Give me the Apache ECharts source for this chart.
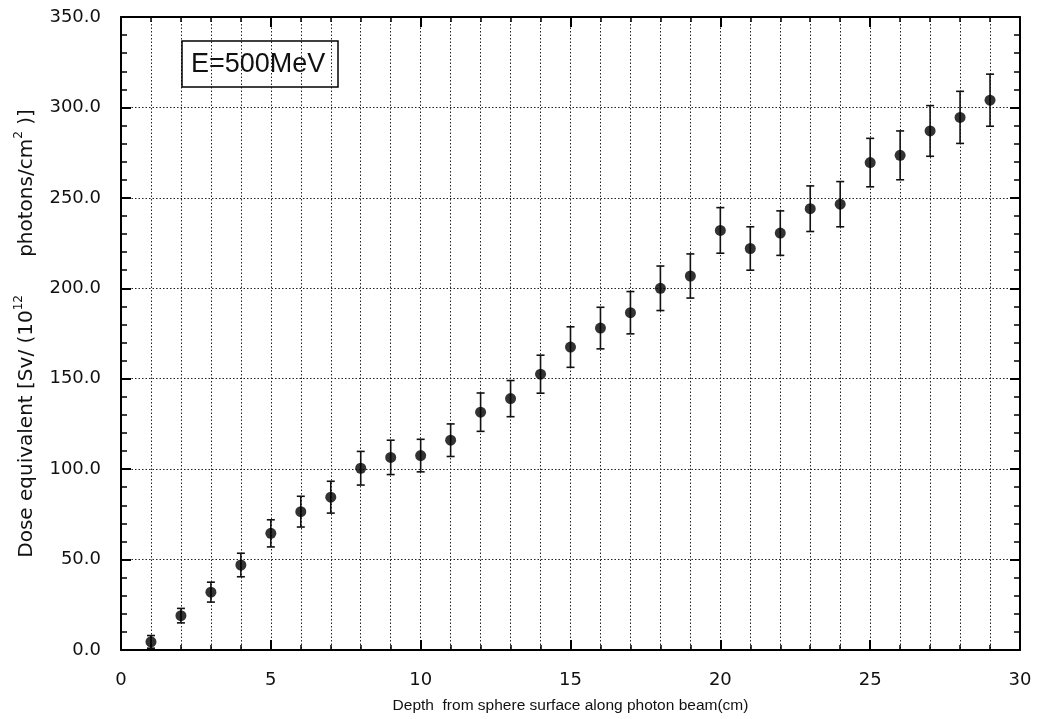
<!DOCTYPE html>
<html>
<head>
<meta charset="utf-8">
<script src="https://cdn.jsdelivr.net/npm/echarts@6/dist/echarts.min.js"></script>
<style>
html,body{margin:0;padding:0;background:#fff;}
#chart{width:1052px;height:719px;}
</style>
</head>
<body>
<div id="chart"></div>
<script>
// ---- data ----
const depth = [1,2,3,4,5,6,7,8,9,10,11,12,13,14,15,16,17,18,19,20,21,22,23,24,25,26,27,28,29];
const dose  = [4.5,19,32,47,64.5,76.5,84.5,100.5,106.5,107.5,116,131.5,139,152.5,167.5,178,186.5,200,206.8,232,222,230.5,244,246.5,269.5,273.5,287,294.5,304];
const err   = [3.5,4,5.5,6.5,7.5,8.5,8.8,9.3,9.5,9,9,10.6,10,10.5,11.2,11.5,11.7,12.3,12.2,12.6,12,12.3,12.6,12.5,13.4,13.5,14,14.4,14.4];
const xTicks = [0,5,10,15,20,25,30];
const yTicks = [0,50,100,150,200,250,300,350];
const energyLabel = 'E=500MeV';
const xTitle = 'Depth  from sphere surface along photon beam(cm)';

const pts = depth.map((d,i)=>[d, dose[i]]);
const bars = depth.map((d,i)=>[d, dose[i], err[i]]);

const FONT = 'Liberation Sans, Arial, sans-serif';
const WIDE = 'DejaVu Sans, sans-serif';
const dotted = {color:'#222', width:1, type:[1.5,2]};

function xAxisDef(pos, showLabel){
  return {
    type:'value', position:pos, min:xTicks[0], max:xTicks[xTicks.length-1], interval:5,
    axisLine:{show:true, onZero:false, lineStyle:{color:'#000', width:2}},
    axisTick:{show:true, inside:true, length:10, lineStyle:{color:'#000', width:2}},
    minorTick:{show:true, splitNumber:5, length:5, lineStyle:{color:'#000', width:1.5}},
    splitLine:{show:showLabel, lineStyle:dotted},
    minorSplitLine:{show:showLabel, lineStyle:dotted},
    axisLabel:{show:showLabel, margin:21, color:'#111', fontSize:18, fontFamily:WIDE},
    name: showLabel ? xTitle : '', nameLocation:'middle', nameGap:48,
    nameTextStyle:{color:'#111', fontSize:15.5, fontFamily:FONT}
  };
}
function yAxisDef(pos, showLabel){
  return {
    type:'value', position:pos, min:yTicks[0], max:yTicks[yTicks.length-1], interval:50,
    axisLine:{show:true, onZero:false, lineStyle:{color:'#000', width:2}},
    axisTick:{show:true, inside:true, length:10, lineStyle:{color:'#000', width:2}},
    minorTick:{show:true, splitNumber:5, length:6, lineStyle:{color:'#000', width:1.5}},
    splitLine:{show:showLabel, lineStyle:dotted},
    axisLabel:{show:showLabel, margin:20, color:'#111', fontSize:18, fontFamily:WIDE,
      formatter:v=>v.toFixed(1)},
    name: showLabel ? '{n|Dose equivalent [Sv/ (10}{s|12}{n|      photons/cm}{s|2}{n| )]}' : '',
    nameLocation:'middle', nameGap:84,
    nameTextStyle:{color:'#111', fontFamily:WIDE,
      rich:{
        n:{fontSize:20, lineHeight:24, fontFamily:WIDE, color:'#111', verticalAlign:'bottom'},
        s:{fontSize:12, lineHeight:24, fontFamily:WIDE, color:'#111', verticalAlign:'top'}
      }}
  };
}

const chart = echarts.init(document.getElementById('chart'));
chart.setOption({
  backgroundColor:'#fff',
  animation:false,
  title:{
    text:energyLabel, left:182, top:41,
    borderColor:'#000', borderWidth:1.5, padding:[10,13,9,9],
    textStyle:{fontSize:27, fontWeight:'normal', color:'#111', fontFamily:FONT}
  },
  grid:{left:121, right:32, top:17, bottom:69},
  xAxis:[xAxisDef('bottom', true), xAxisDef('top', false)],
  yAxis:[yAxisDef('left', true), yAxisDef('right', false)],
  series:[
    {
      type:'custom', xAxisIndex:0, yAxisIndex:0,
      data:bars,
      renderItem:function(params, api){
        const x = api.value(0), y = api.value(1), e = api.value(2);
        const top = api.coord([x, y+e]);
        const bot = api.coord([x, y-e]);
        const cap = 4;
        const st = {stroke:'#111', lineWidth:1.6};
        return {type:'group', children:[
          {type:'line', shape:{x1:top[0], y1:top[1], x2:bot[0], y2:bot[1]}, style:st},
          {type:'line', shape:{x1:top[0]-cap, y1:top[1], x2:top[0]+cap, y2:top[1]}, style:st},
          {type:'line', shape:{x1:bot[0]-cap, y1:bot[1], x2:bot[0]+cap, y2:bot[1]}, style:st}
        ]};
      },
      z:3
    },
    {
      type:'scatter', xAxisIndex:0, yAxisIndex:0,
      data:pts, symbol:'circle', symbolSize:11,
      itemStyle:{color:'#000'}, z:4
    }
  ]
});
</script>
</body>
</html>
